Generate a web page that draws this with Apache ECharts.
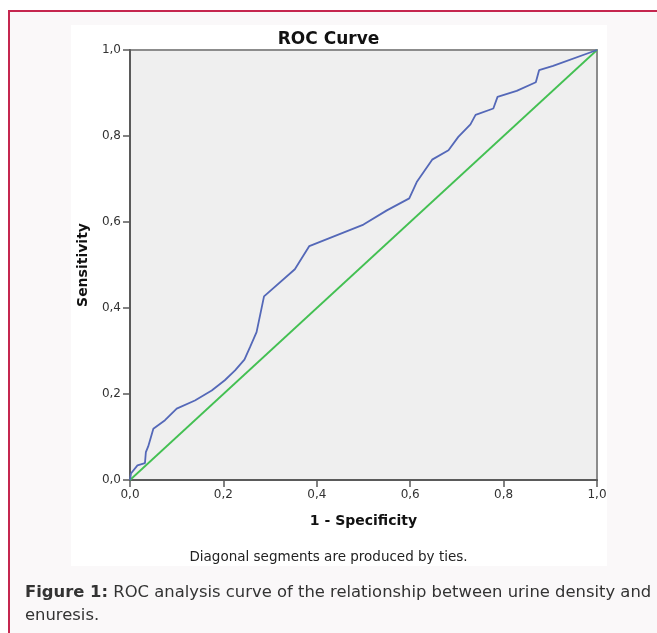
<!DOCTYPE html>
<html>
<head>
<meta charset="utf-8">
<script src="https://cdn.jsdelivr.net/npm/echarts@6/dist/echarts.min.js"></script>
<style>
  body { margin: 0; background: #fff; }
  #frame { position: absolute; left: 8px; top: 10px; width: 649px; height: 623px;
           border-top: 2px solid #c5264f; border-left: 2px solid #c5264f; background: #faf8f9; }
  #panel { position: absolute; left: 71px; top: 25px; width: 536px; height: 541px; background: #fff; }
  #main { position: absolute; left: 0; top: 0; width: 657px; height: 633px; }
</style>
</head>
<body>
<div id="frame"></div>
<div id="panel"></div>
<div id="main"></div>
<script>
// ROC curve points
var fpr = [0, 0.002, 0.016, 0.032, 0.034, 0.039, 0.050, 0.075, 0.100, 0.139, 0.175, 0.203, 0.225, 0.245,
	0.257, 0.271, 0.287, 0.353, 0.384, 0.387, 0.500, 0.550, 0.598, 0.614, 0.647, 0.682, 0.703, 0.729,
	0.740, 0.778, 0.787, 0.828, 0.869, 0.876, 0.906, 1];
var tpr = [0, 0.015, 0.034, 0.039, 0.065, 0.078, 0.119, 0.139, 0.166, 0.185, 0.208, 0.232, 0.255, 0.280,
	0.309, 0.344, 0.427, 0.490, 0.544, 0.548, 0.594, 0.627, 0.655, 0.693, 0.745, 0.767, 0.798, 0.827,
	0.849, 0.864, 0.891, 0.905, 0.925, 0.953, 0.963, 1];
// reference line
var refX = [0, 1];
var refY = [0, 1];
var ticks = [0, 0.2, 0.4, 0.6, 0.8, 1.0];

var font = '"DejaVu Sans", Verdana, sans-serif';

function pairs(xs, ys) {
	var out = [];
	for (var i = 0; i < xs.length; i++) {
		out.push([xs[i], ys[i]]);
	}
	return out;
}

function fmt(v) {
	return v.toFixed(1).replace('.', ',');
}

function axis(name, gap) {
	return {
		type: 'value',
		min: ticks[0],
		max: ticks[ticks.length - 1],
		interval: 0.2,
		name: name,
		nameLocation: 'middle',
		nameGap: gap,
		nameTextStyle: { fontFamily: font, fontSize: 14, fontWeight: 'bold', color: '#111' },
		axisLine: { show: true, lineStyle: { color: '#5a5a5a', width: 2 } },
		axisTick: { show: true, length: 7, lineStyle: { color: '#5a5a5a', width: 1.5 } },
		axisLabel: { fontFamily: font, fontSize: 12, color: '#333', margin: 9, formatter: fmt },
		splitLine: { show: false }
	};
}

var ec = echarts.init(document.getElementById('main'));
ec.setOption({
	backgroundColor: 'transparent',
	animation: false,
	title: {
		text: 'ROC Curve',
		left: 'center',
		top: 26,
		textStyle: { fontFamily: font, fontSize: 17, fontWeight: 'bold', color: '#111' }
	},
	grid: {
		left: 130, right: 60, top: 50, bottom: 153,
		show: true,
		backgroundColor: '#efefef',
		borderColor: '#8c8c8c',
		borderWidth: 2
	},
	xAxis: axis('1 - Specificity', 34),
	yAxis: axis('Sensitivity', 40),
	series: [{
		type: 'line',
		data: pairs(refX, refY),
		symbol: 'none',
		lineStyle: { color: '#43c052', width: 1.8 }
	}, {
		type: 'line',
		data: pairs(fpr, tpr),
		symbol: 'none',
		lineStyle: { color: '#5468b8', width: 1.8 }
	}],
	graphic: [{
		type: 'text',
		left: 'center',
		top: 550,
		style: { text: 'Diagonal segments are produced by ties.', font: '13.5px ' + font, fill: '#222' }
	}, {
		type: 'text',
		left: 25,
		top: 581,
		style: {
			text: '{b|Figure 1:} ROC analysis curve of the relationship between urine density and\nenuresis.',
			font: '16.4px ' + font,
			fill: '#333',
			lineHeight: 23,
			rich: { b: { font: 'bold 16.4px ' + font, fill: '#333' } }
		}
	}]
});
</script>
</body>
</html>
